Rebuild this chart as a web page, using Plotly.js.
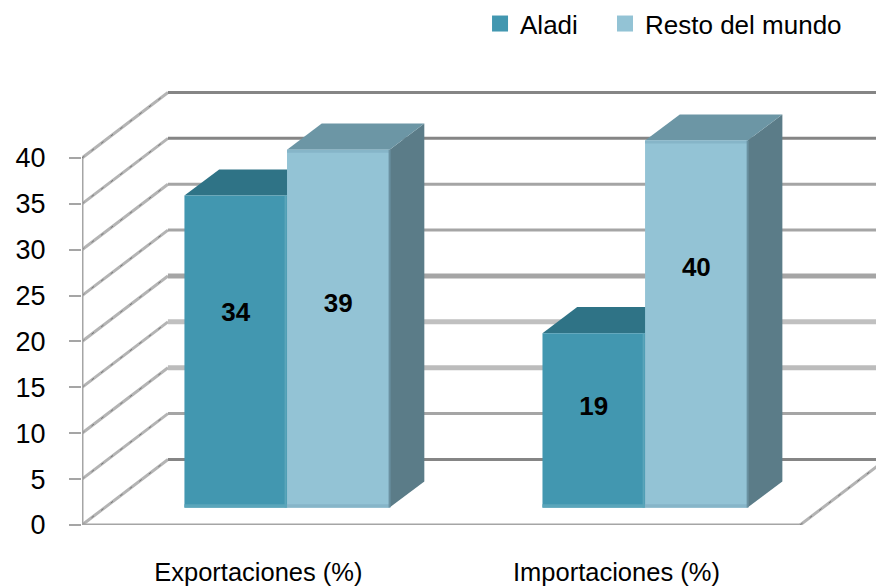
<!DOCTYPE html>
<html>
<head>
<meta charset="utf-8">
<script src="https://cdn.plot.ly/plotly-3.0.1.min.js"></script>
<style>html,body{margin:0;padding:0;background:#fff;overflow:hidden}</style>
</head>
<body>
<div id="chart" style="width:876px;height:587px"></div>
<script>
const categories = ['Exportaciones (%)', 'Importaciones (%)'];
const aladi = [34, 19];
const resto = [39, 40];
const aladiLabelY = [22.9, 12.7];
const restoLabelY = [23.9, 27.8];
const yTicks = [0, 5, 10, 15, 20, 25, 30, 35, 40];
const gridColors = ['#858585','#a5a5a5','#bcbcbc','#c0c0c0','#a5a5a5','#a5a5a5','#a5a5a5','#858585','#858585'];
const gridWidths = [3, 3, 5, 5, 5, 3, 3, 3, 3];

// projection constants (data units)
const xRange = [-0.5726, 1.645], yRange = [0, 48.5];
const wallDx = 0.24, wallDy = 7.14;     // depth of the chart box
const floorEnd = 1.433;                 // right end of front floor
const barW = 0.2865, barBase = 1.9;     // bar width and floor offset
const depthDx = 0.097, depthDy = 2.85;  // depth of each bar
const FONT = '"Liberation Sans", Arial, sans-serif';
const ALADI = '#4297B0', RESTO = '#93C3D5';
const ALADI_TOP = '#2F7386', RESTO_TOP = '#6C96A5';
const ALADI_SIDE = '#2F6E80', RESTO_SIDE = '#5B7C88';
const ALADI_EDGE = '#5AA5BA', RESTO_EDGE = '#86B5C8', RESTO_RIGHT = '#6A91A1';

const traces = [];
function line(x, y, color, width, dash) {
  traces.push({type:'scatter', mode:'lines', x, y, xaxis:'x', yaxis:'y', showlegend:false, hoverinfo:'skip',
    cliponaxis:false, line:{color, width, dash:dash||'solid'}});
}
function poly(x, y, color) {
  traces.push({type:'scatter', mode:'lines', x, y, xaxis:'x', yaxis:'y', fill:'toself', fillcolor:color,
    showlegend:false, hoverinfo:'skip', line:{width:0, color}});
}
function edge(x, y, color, width) {
  traces.push({type:'scatter', mode:'lines', x, y, xaxis:'x2', yaxis:'y2', showlegend:false, hoverinfo:'skip',
    line:{color, width}});
}
const xL = xRange[0];
// walls
yTicks.forEach((v, i) => {
  line([xL, xL + wallDx], [v, v + wallDy], '#b4b4b4', 3);
  line([xL, xL + wallDx], [v, v + wallDy], '#777777', 1, '3px,9px');
  line([xL + wallDx, floorEnd + wallDx], [v + wallDy, v + wallDy], gridColors[i], gridWidths[i]);
});
line([floorEnd, floorEnd + wallDx], [0, wallDy], '#b4b4b4', 3);
line([floorEnd, floorEnd + wallDx], [0, wallDy], '#777777', 1, '3px,9px');
line([xL, xL], [0, 40], '#a5a5a5', 3);
line([xL, floorEnd], [0, 0], '#a5a5a5', 3);

// depth faces of the bars
function box(left, val, top, side) {
  const r = left + barW, t = barBase + val;
  poly([r, r + depthDx, r + depthDx, r, r], [barBase, barBase + depthDy, t + depthDy, t, barBase], side);
  poly([left, left + depthDx, r + depthDx, r, left], [t, t + depthDy, t + depthDy, t, t], top);
}
categories.forEach((c, i) => {
  box(i - barW, aladi[i], ALADI_TOP, ALADI_SIDE);
  box(i, resto[i], RESTO_TOP, RESTO_SIDE);
});

const idx = categories.map((_, i) => i);
// front faces
traces.push({type:'bar', name:'Aladi', x:idx, y:aladi, base:barBase, xaxis:'x2', yaxis:'y2', showlegend:false,
  marker:{color:ALADI, line:{width:0}}, hoverinfo:'skip'});
traces.push({type:'bar', name:'Resto del mundo', x:idx, y:resto, base:barBase, xaxis:'x2', yaxis:'y2', showlegend:false,
  marker:{color:RESTO, line:{width:0}}, hoverinfo:'skip'});
// bevel strips along the front faces
idx.forEach(i => {
  const inset = 0.17, side = 0.004;
  edge([i - barW, i], [barBase + inset, barBase + inset], ALADI_EDGE, 3.5);
  edge([i, i + barW], [barBase + inset, barBase + inset], RESTO_EDGE, 3.5);
  edge([i, i + barW], [barBase + resto[i] - inset, barBase + resto[i] - inset], RESTO_EDGE, 3);
  edge([i - side, i - side], [barBase, barBase + aladi[i]], ALADI_EDGE, 2);
  edge([i + barW, i + barW], [barBase, barBase + resto[i]], RESTO_RIGHT, 2);
});
// value labels
traces.push({type:'scatter', mode:'text', xaxis:'x2', yaxis:'y2', showlegend:false, hoverinfo:'skip',
  x: idx.map(i => i - barW / 2).concat(idx.map(i => i + barW / 2)),
  y: aladiLabelY.concat(restoLabelY),
  text: aladi.concat(resto).map(String),
  textposition:'middle center',
  textfont:{family:FONT, size:26, color:'#000', weight:700}});
// legend keys
traces.push({type:'scatter', mode:'markers', name:'Aladi', x:[null], y:[null], xaxis:'x2', yaxis:'y2', legend:'legend',
  marker:{symbol:'square', size:16, color:ALADI}});
traces.push({type:'scatter', mode:'markers', name:'Resto del mundo', x:[null], y:[null], xaxis:'x2', yaxis:'y2', legend:'legend2',
  marker:{symbol:'square', size:16, color:RESTO}});

const legendStyle = {orientation:'h', y:1.1795, xanchor:'left', yanchor:'top', font:{family:FONT, size:26, color:'#000'},
  bgcolor:'rgba(0,0,0,0)', itemclick:false, itemdoubleclick:false};

const layout = {
  width:876, height:587,
  margin:{l:82, r:0, t:80, b:62},
  paper_bgcolor:'#fff', plot_bgcolor:'rgba(0,0,0,0)',
  barmode:'group', bargap:1 - 2 * barW, bargroupgap:0,
  font:{family:FONT, size:26, color:'#000'},
  showlegend:true,
  legend:Object.assign({x:0.5013}, legendStyle),
  legend2:Object.assign({x:0.6587}, legendStyle),
  xaxis:{range:xRange, showgrid:false, zeroline:false, showline:false, ticks:'',
    tickmode:'array', tickvals:[-0.08, 0.92], ticktext:categories, ticklabelstandoff:29,
    tickfont:{family:FONT, size:25.5, color:'#000'}},
  yaxis:{range:yRange, showgrid:false, zeroline:false, showline:false, ticks:'outside', ticklen:12, tickwidth:2, tickcolor:'#a5a5a5',
    tickmode:'array', tickvals:yTicks, ticklabelstandoff:18,
    tickfont:{family:FONT, size:27, color:'#000'}},
  xaxis2:{range:xRange, overlaying:'x', anchor:'y2', visible:false},
  yaxis2:{range:yRange, overlaying:'y', anchor:'x2', visible:false}
};
Plotly.newPlot('chart', traces, layout, {displayModeBar:false, staticPlot:true});
</script>
</body>
</html>
